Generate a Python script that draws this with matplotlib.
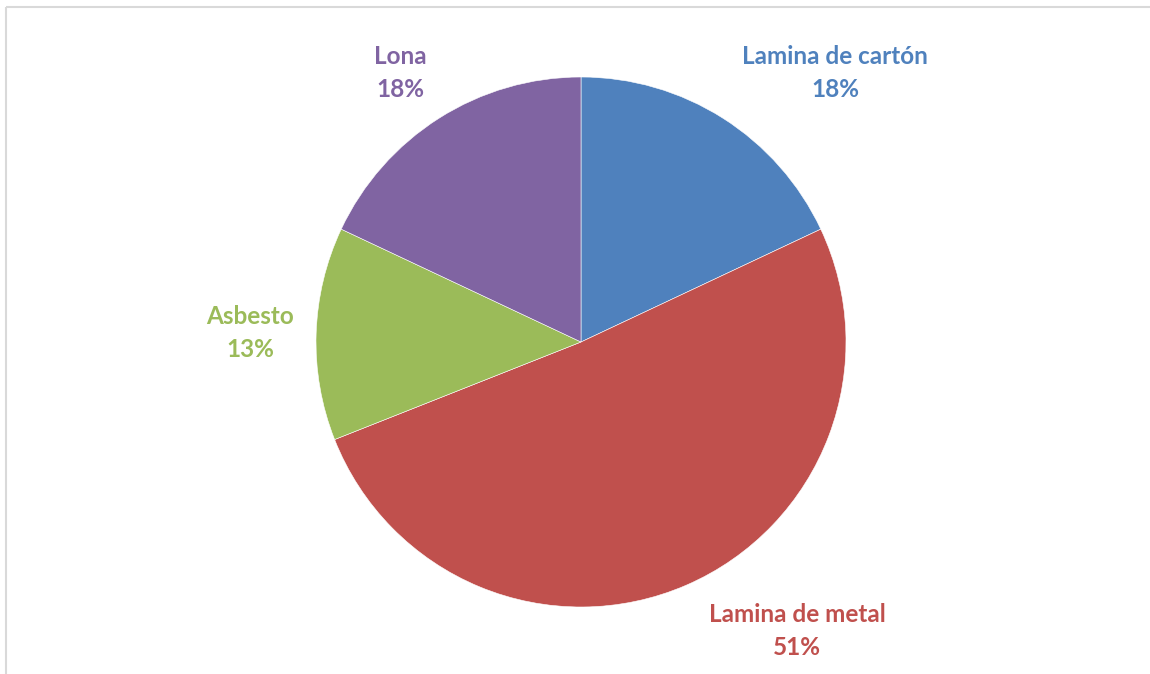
import matplotlib
matplotlib.use("Agg")
import matplotlib.pyplot as plt

categories = ["Lamina de cartón", "Lamina de metal", "Asbesto", "Lona"]
values = [18, 51, 13, 18]
colors = ["#4F81BD", "#C0504D", "#9BBB59", "#8064A2"]
# label anchor positions in pixels (x, y from top)
label_pos = [(835, 73), (797, 631), (250, 333), (400, 73)]

W, H = 1150, 674
fig = plt.figure(figsize=(W / 100, H / 100), dpi=100)
ax = fig.add_axes([0, 0, 1, 1])
ax.set_xlim(0, W)
ax.set_ylim(0, H)
ax.set_aspect("equal")
ax.axis("off")

cx, cy, r = 581, H - 342, 265
ax.pie(values, colors=colors, startangle=90, counterclock=False,
       center=(cx, cy), radius=r, frame=True,
       wedgeprops=dict(edgecolor="white", linewidth=0.4))
ax.set_xlim(0, W)
ax.set_ylim(0, H)
ax.axis("off")

for cat, val, col, (lx, ly) in zip(categories, values, colors, label_pos):
    ax.text(lx, H - ly, f"{cat}\n{val}%", color=col, ha="center", va="center",
            fontsize=17.5, fontweight="bold", family="Lato", linespacing=1.5)

# chart border (top and left visible)
ax.plot([5.5, W], [H - 6.5, H - 6.5], color="#D9D9D9", lw=1.5, solid_capstyle="butt")
ax.plot([5.5, 5.5], [0, H - 6.5], color="#D9D9D9", lw=1.5, solid_capstyle="butt")

fig.savefig("out.png", dpi=100)
